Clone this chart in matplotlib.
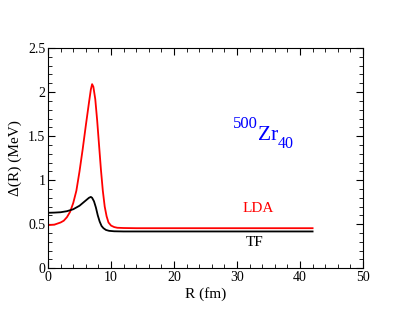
import matplotlib
matplotlib.use('Agg')
import matplotlib.pyplot as plt
from matplotlib.ticker import MultipleLocator, FuncFormatter

plt.rcParams['font.family'] = ['Liberation Serif', 'DejaVu Serif']

# Data (R in fm, Delta in MeV)
r_lda = [0, 1.0, 2.0, 2.5, 3.0, 3.5, 4.0, 4.5, 5.0, 5.5, 6.0, 6.5, 6.8, 7.0, 7.2, 7.5,
         7.8, 8.1, 8.4, 8.7, 9.0, 9.3, 9.6, 10.0, 10.5, 11.0, 12.0, 14.0, 20, 30, 42]
d_lda = [0.49, 0.495, 0.52, 0.54, 0.58, 0.64, 0.74, 0.88, 1.10, 1.35, 1.62, 1.88, 2.03, 2.09, 2.06, 1.92,
         1.68, 1.40, 1.12, 0.88, 0.70, 0.59, 0.52, 0.485, 0.468, 0.46, 0.457, 0.455, 0.455, 0.455, 0.455]

r_tf = [0, 1.0, 2.0, 3.0, 4.0, 5.0, 5.5, 6.0, 6.5, 6.8, 7.0, 7.3, 7.6, 7.9, 8.2, 8.5,
        8.8, 9.2, 9.7, 10.5, 12.0, 20, 30, 42]
d_tf = [0.63, 0.632, 0.636, 0.648, 0.67, 0.71, 0.74, 0.77, 0.80, 0.81, 0.80, 0.76, 0.69, 0.60, 0.53, 0.48,
        0.455, 0.435, 0.425, 0.42, 0.418, 0.418, 0.418, 0.418]

fig = plt.figure(figsize=(4.09, 3.16), dpi=100)
ax = fig.add_axes([0.1174, 0.151, 0.7701, 0.697])

ax.plot(r_lda, d_lda, color='red', lw=1.3)
ax.plot(r_tf, d_tf, color='black', lw=1.3)

ax.set_xlim(0, 50)
ax.set_ylim(0, 2.5)
ax.xaxis.set_major_locator(MultipleLocator(10))
ax.xaxis.set_minor_locator(MultipleLocator(2))
ax.yaxis.set_major_locator(MultipleLocator(0.5))
ax.yaxis.set_minor_locator(MultipleLocator(0.1))
ax.tick_params(which='both', direction='in', top=True, right=True, labelsize=10, pad=2)
ax.tick_params(which='major', length=5)
ax.tick_params(which='minor', length=3)
ax.yaxis.set_major_formatter(FuncFormatter(lambda v, p: f'{v:g}'))

ax.set_xlabel('R (fm)', fontsize=11, labelpad=2)
ax.set_ylabel('\u0394(R) (MeV)', fontsize=11, labelpad=4)

ax.text(33.3, 0.60, 'LDA', color='red', fontsize=11, ha='center', va='bottom')
ax.text(32.8, 0.22, 'TF', color='black', fontsize=11, ha='center', va='bottom')

# nuclide label 500Zr40 built from three pieces
ax.text(33.3, 1.456, 'Zr', color='blue', fontsize=15.5, ha='left', va='baseline')
ax.annotate('500', (33.3, 1.456), xytext=(0, 8.6), textcoords='offset points',
            color='blue', fontsize=12, ha='right', va='baseline')
ax.annotate('40', (36.4, 1.456), xytext=(0, -5.8), textcoords='offset points',
            color='blue', fontsize=11.5, ha='left', va='baseline')

fig.savefig('out.png', dpi=100)
